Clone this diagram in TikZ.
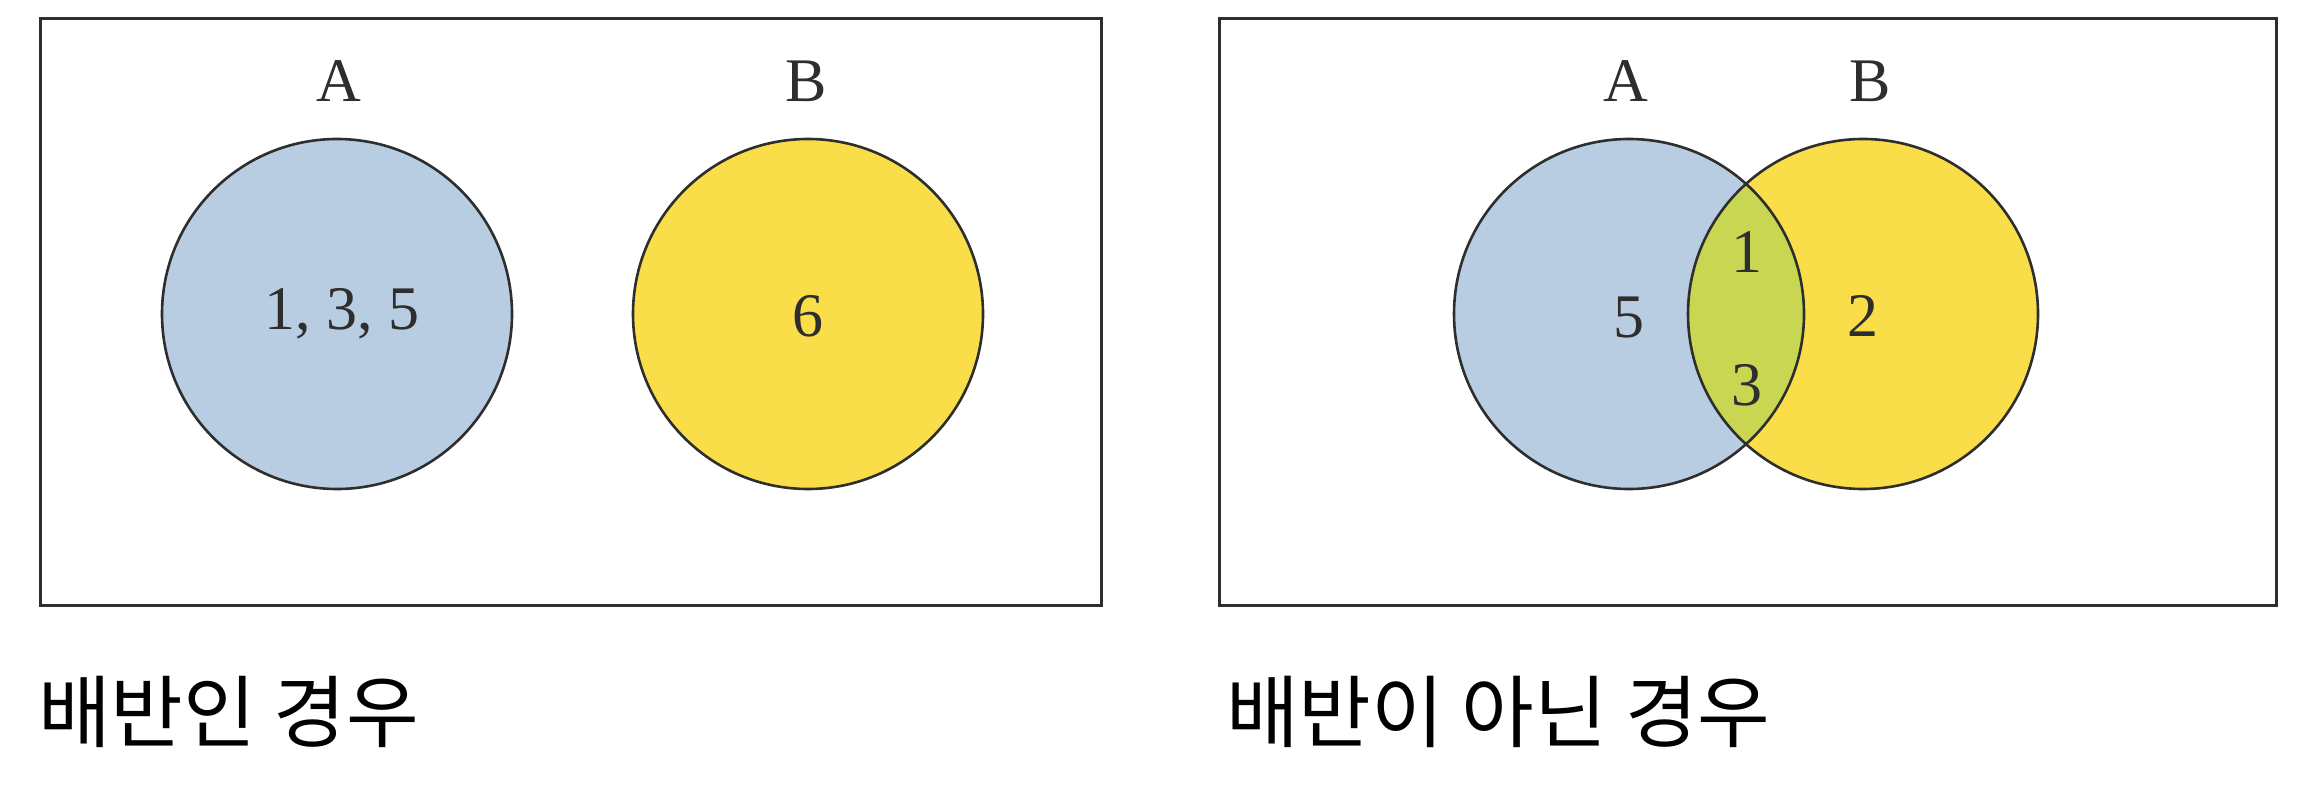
\documentclass[tikz,border=0pt]{standalone}
\usepackage{fontspec}
\setmainfont{Liberation Serif}
\newfontfamily\kr{Noto Sans CJK KR}
\definecolor{setblue}{HTML}{B8CCE2}
\definecolor{setyellow}{HTML}{F9DE4A}
\definecolor{setgreen}{HTML}{C8D652}
\definecolor{edge}{HTML}{2E2E2E}
\tikzset{
  frame/.style={draw=edge, line width=3pt},
  setcirc/.style={circle, minimum size=350pt, inner sep=0pt, draw=edge, line width=2.6pt},
  lab/.style={font=\fontsize{62}{62}\selectfont, text=edge},
  captext/.style={font=\kr\fontsize{79}{79}\selectfont, anchor=west, inner sep=0pt}
}
\begin{document}
\begin{tikzpicture}[x=1pt,y=-1pt]
\useasboundingbox (0,0) rectangle (2320,794);
\fill[white] (0,0) rectangle (2320,794);
% left panel
\node[frame, minimum width=1061pt, minimum height=586pt, inner sep=0pt] (box1) at (570.5,312) {};
\node[setcirc, fill=setblue] (cA1) at (337,314) {};
\node[setcirc, fill=setyellow] (cB1) at (808,314) {};
\node[lab] (lA1) at (339,81) {A};
\node[lab] (lB1) at (806,81) {B};
\node[lab] (n135) at (342,314) {1, 3, 5};
\node[lab] (n6) at (808,316) {6};
% right panel
\node[frame, minimum width=1057pt, minimum height=586pt, inner sep=0pt] (box2) at (1747.5,312) {};
\fill[setblue] (1629,314) circle (175);
\fill[setyellow] (1863,314) circle (175);
\begin{scope}
\clip (1629,314) circle (175);
\fill[setgreen] (1863,314) circle (175);
\end{scope}
\node[setcirc] (cA2) at (1629,314) {};
\node[setcirc] (cB2) at (1863,314) {};
\node[lab] (lA2) at (1626,81) {A};
\node[lab] (lB2) at (1870,81) {B};
\node[lab] (n5) at (1629,318) {5};
\node[lab] (n1) at (1747,252) {1};
\node[lab] (n3) at (1747,385) {3};
\node[lab] (n2) at (1863,316) {2};
% captions
\node[captext] (cap1) at (38,712) {배반인 경우};
\node[captext] (cap2) at (1226,712) {배반이 아닌 경우};
\end{tikzpicture}
\end{document}
